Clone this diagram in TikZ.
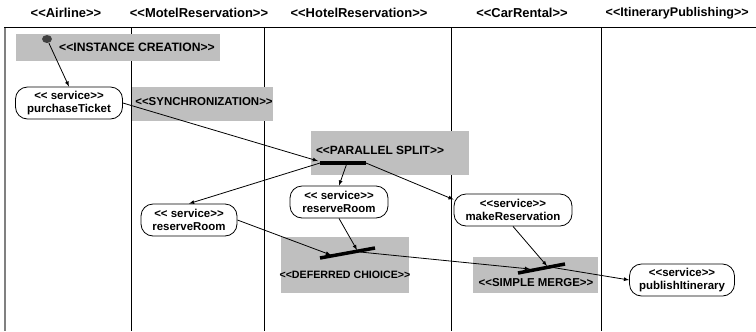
\documentclass[tikz,border=0pt]{standalone}
\usepackage{fontspec}
\setmainfont{Liberation Sans}[Ligatures=TeXOff]
\usetikzlibrary{shapes.geometric, arrows, positioning}

\begin{document}
\begin{tikzpicture}[x=1bp, y=-1bp, >=latex, line width=0.8bp,
    lane/.style={font=\bfseries\fontsize{13}{15}\selectfont},
    service/.style={rectangle, draw, rounded corners=12bp, align=center, minimum height=32bp, inner sep=1pt, font=\bfseries\fontsize{11.5}{13}\selectfont},
    wcp/.style={font=\bfseries\fontsize{11.5}{13}\selectfont, inner sep=0pt},
    bar/.style={line width=3.5bp}]
    \useasboundingbox (0,0) rectangle (756,331);

    % swimlanes
    \node (airline) [lane] at (66,13) {<<Airline>>};
    \node (motellane) [lane] at (199,13) {<<MotelReservation>>};
    \node (hotellane) [lane] at (359,13) {<<HotelReservation>>};
    \node (carlane) [lane] at (522,13) {<<CarRental>>};
    \node (publane) [lane, anchor=west, font=\bfseries\fontsize{12.6}{15}\selectfont] at (602,13) {<<ItineraryPublishing>>};
    \draw [gray, line width=1.5bp] (5,27) -- (5,331);
    \draw (4,27) -- (756,27);
    \foreach \x in {131,264,451,601}
        \draw (\x,27) -- (\x,331);

    % pattern boxes
    \fill [gray!50] (16,34) rectangle (220,61);
    \fill [gray!50] (132,87) rectangle (273,121);
    \fill [gray!50] (311,131) rectangle (469,175);
    \fill [gray!50] (281,237) rectangle (409,293);
    \fill [gray!50] (473,257) rectangle (598,293);
    \node (ic) [wcp, font=\bfseries\fontsize{12.2}{14}\selectfont] at (137,47) {<<INSTANCE CREATION>>};
    \node (sync) [wcp] at (204,102) {<<SYNCHRONIZATION>>};
    \node (ps) [wcp, font=\bfseries\fontsize{12}{14}\selectfont] at (380,150) {<<PARALLEL SPLIT>>};
    \node (dc) [wcp, font=\bfseries\fontsize{10.7}{13}\selectfont] at (345,275) {<<DEFERRED CHIOICE>>};
    \node (sm) [wcp] at (536,283) {<<SIMPLE MERGE>>};

    % services
    \node (start) [ellipse, fill=darkgray, minimum width=10bp, minimum height=8bp, inner sep=0pt] at (47,39) {};
    \node (ticket) [service, minimum width=107bp] at (69,103) {<< service>>\\purchaseTicket};
    \node (motel) [service, minimum width=96bp] at (189,220) {<< service>>\\reserveRoom};
    \node (hotel) [service, minimum width=98bp] at (339,202) {<< service>>\\reserveRoom};
    \node (car) [service, minimum width=118bp] at (513,210) {<<service>>\\makeReservation};
    \node (publish) [service, minimum width=105bp] at (682,280) {<<service>>\\publishItinerary};

    % bars
    \coordinate (splitw) at (320,163);
    \coordinate (splitm) at (347,163);
    \coordinate (splite) at (366,163);
    \coordinate (splitin) at (318,161);
    \coordinate (dcw) at (320,258);
    \coordinate (dce) at (375,248);
    \coordinate (dcin) at (331,255);
    \coordinate (dcin2) at (357,250);
    \coordinate (dcout) at (360,252);
    \coordinate (smw) at (518,273);
    \coordinate (sme) at (565,264);
    \coordinate (smin) at (530,269);
    \coordinate (smin2) at (547,266);
    \coordinate (smout) at (550,267);
    \draw [bar] (splitw) -- (splite);
    \draw [bar] (dcw) -- (dce);
    \draw [bar] (smw) -- (sme);

    % flow
    \draw [->] (start) -- (ticket.north);
    \draw [->] (ticket.east) -- (splitin);
    \draw [->] (splitw) -- (motel.north);
    \draw [->] (splitm) -- (hotel.north);
    \draw [->] (splite) -- (car.170);
    \draw [->] (motel.east) -- (dcin);
    \draw [->] (hotel.south) -- (dcin2);
    \draw [->] (dcout) -- (smin);
    \draw [->] (car.south) -- (smin2);
    \draw [->] (smout) -- (publish.west);
\end{tikzpicture}
\end{document}
